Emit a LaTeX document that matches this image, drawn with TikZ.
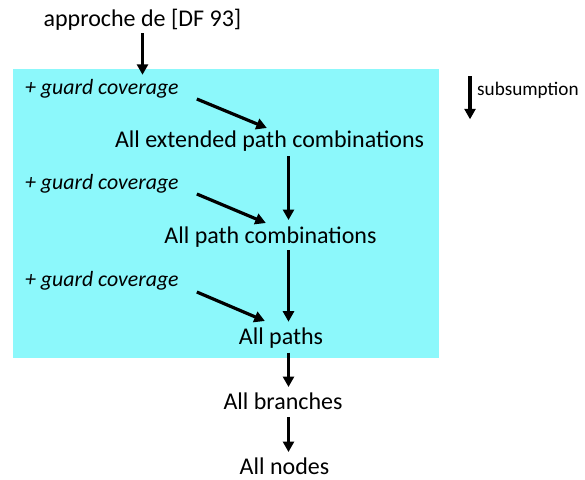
\documentclass[tikz,border=0pt]{standalone}
\usepackage{fontspec}
\setmainfont{Carlito}
\usetikzlibrary{arrows.meta,calc}
\definecolor{boxcyan}{RGB}{140,248,251}
\tikzset{
  arr/.style={line width=3.2pt,-{Triangle[length=10.5pt,width=11pt]}},
  maintext/.style={inner sep=0pt,anchor=base,font=\fontsize{24}{28}\selectfont},
  guardtext/.style={inner sep=0pt,anchor=base west,font=\fontsize{21.8}{26}\selectfont\itshape},
  legendtext/.style={inner sep=0pt,anchor=base west,font=\fontsize{19.2}{22}\selectfont},
  cbox/.style={fill=boxcyan,draw=none,inner sep=0pt,minimum width=425.2pt,minimum height=288.7pt}
}
\begin{document}
\begin{tikzpicture}[x=1pt,y=-1pt]
\useasboundingbox (0,0) rectangle (585,479);
\node[cbox] (box) at (225.9,213.65) {};
\coordinate (col) at (288.5,0);
\node[maintext] (app) at (142.5,26.7) {approche de [DF 93]};
\node[maintext] (ext) at (269.6,147.7) {All extended path combinations};
\node[maintext] (pc) at (270.5,243) {All path combinations};
\node[maintext] (paths) at (281,344) {All paths};
\node[maintext] (br) at (283,409) {All branches};
\node[maintext] (nodes) at (284.5,474) {All nodes};
\node[guardtext] (g1) at (25,94) {+ guard coverage};
\node[guardtext] (g2) at (25,189) {+ guard coverage};
\node[guardtext] (g3) at (25,286) {+ guard coverage};
\node[legendtext] (sub) at (477,95) {subsumption};
\coordinate (lgtop) at (470,76);
\coordinate (lgbot) at (470,119.3);
% connectors
\draw[arr] ($(app.base)+(0,6.3)$) -- ($(app.base |- box.north)+(0,5.7)$);
\draw[arr] ($(ext.base -| col)+(0,8.3)$) -- ($(pc.base -| col)+(0,-23)$);
\draw[arr] ($(pc.base -| col)+(0,7)$) -- ($(paths.base -| col)+(0,-22.3)$);
\draw[arr] ($(paths.base -| col)+(0,8.7)$) -- ($(br.base -| col)+(0,-22)$);
\draw[arr] ($(br.base -| col)+(0,8)$) -- ($(nodes.base -| col)+(0,-22)$);
\draw[arr] ($(g1.base east)+(18,5)$) -- ++(70,29);
\draw[arr] ($(g2.base east)+(18,5)$) -- ++(69,29);
\draw[arr] ($(g3.base east)+(18,6)$) -- ++(68,29);
\draw[arr] (lgtop) -- (lgbot);
\end{tikzpicture}
\end{document}
